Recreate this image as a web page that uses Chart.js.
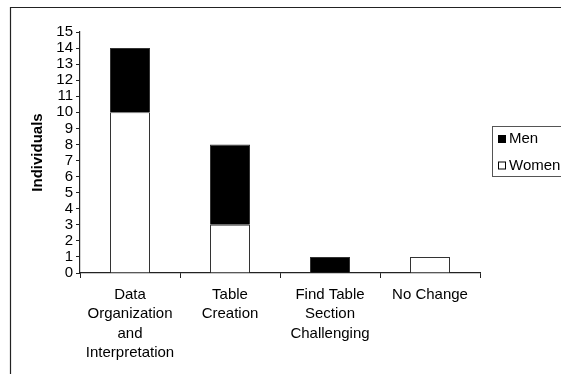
<!DOCTYPE html>
<html>
<head>
<meta charset="utf-8">
<script src="https://cdn.jsdelivr.net/npm/chart.js@4/dist/chart.umd.min.js"></script>
<style>
  html, body { margin: 0; padding: 0; background: #fff; }
  #wrap { width: 561px; height: 374px; position: relative; }
</style>
</head>
<body>
<div id="wrap"><canvas id="c" width="561" height="374"></canvas></div>
<script>
const categories = [
  ["Data", "Organization", "and", "Interpretation"],
  ["Table", "Creation"],
  ["Find Table", "Section", "Challenging"],
  ["No Change"]
];
const women = [10, 3, 0, 1];
const men = [4, 5, 1, 0];
const yTicks = [0, 1, 2, 3, 4, 5, 6, 7, 8, 9, 10, 11, 12, 13, 14, 15];

const FONT = "'Liberation Sans', Arial, sans-serif";
const INK = '#222';

// Thin frame along the top and left edge of the figure
const framePlugin = {
  id: 'frame',
  afterDraw(chart) {
    const ctx = chart.ctx;
    ctx.save();
    ctx.strokeStyle = '#222';
    ctx.lineWidth = 1.2;
    ctx.beginPath();
    ctx.moveTo(10.5, chart.height);
    ctx.lineTo(10.5, 7.5);
    ctx.lineTo(chart.width, 7.5);
    ctx.stroke();
    ctx.restore();
  }
};

// Boxed legend on the right, top series listed first
const boxLegend = {
  id: 'boxLegend',
  afterDraw(chart) {
    const ctx = chart.ctx;
    const x = 492.5, y = 126.5, h = 50;
    ctx.save();
    ctx.strokeStyle = '#555';
    ctx.lineWidth = 1;
    ctx.strokeRect(x, y, 100, h);
    const items = chart.data.datasets.slice().reverse();
    ctx.font = '15px ' + FONT;
    ctx.textBaseline = 'middle';
    items.forEach((ds, i) => {
      const cy = 139 + i * 26.5;
      ctx.fillStyle = ds.backgroundColor;
      ctx.fillRect(498.5, cy - 3.5, 7, 7);
      ctx.strokeStyle = '#000';
      ctx.strokeRect(498.5, cy - 3.5, 7, 7);
      ctx.fillStyle = '#000';
      ctx.fillText(ds.label, 509, cy);
    });
    ctx.restore();
  }
};

new Chart(document.getElementById('c'), {
  type: 'bar',
  data: {
    labels: categories,
    datasets: [
      { label: 'Women', data: women, backgroundColor: '#ffffff', borderColor: '#333', borderWidth: 1 },
      { label: 'Men', data: men, backgroundColor: '#000000', borderColor: '#333', borderWidth: 1 }
    ]
  },
  options: {
    responsive: false,
    animation: false,
    layout: { padding: { left: 0, top: 32, right: 81, bottom: 0 } },
    datasets: { bar: { categoryPercentage: 1, barPercentage: 0.4 } },
    plugins: { legend: { display: false }, tooltip: { enabled: false } },
    scales: {
      x: {
        stacked: true,
        grid: { display: true, drawOnChartArea: false, drawTicks: true, tickLength: 5, color: INK, offset: true },
        border: { display: true, color: INK, width: 1.2 },
        ticks: { color: '#000', font: { family: FONT, size: 15, lineHeight: 1.3 }, padding: 7, maxRotation: 0, autoSkip: false },
        afterFit(scale) { scale.height = 101; }
      },
      y: {
        stacked: true,
        min: 0,
        max: 15,
        afterBuildTicks(scale) { scale.ticks = yTicks.map(v => ({ value: v })); },
        grid: { display: true, drawOnChartArea: false, drawTicks: true, tickLength: 4, color: INK },
        border: { display: true, color: INK, width: 1.2 },
        ticks: { color: '#000', font: { family: FONT, size: 15 }, padding: 3, autoSkip: false },
        title: { display: true, text: 'Individuals', color: '#000', font: { family: FONT, size: 15, weight: 'bold' }, padding: { top: 29, bottom: 0 } },
        afterFit(scale) { scale.width = 80; }
      }
    }
  },
  plugins: [framePlugin, boxLegend]
});
</script>
</body>
</html>
